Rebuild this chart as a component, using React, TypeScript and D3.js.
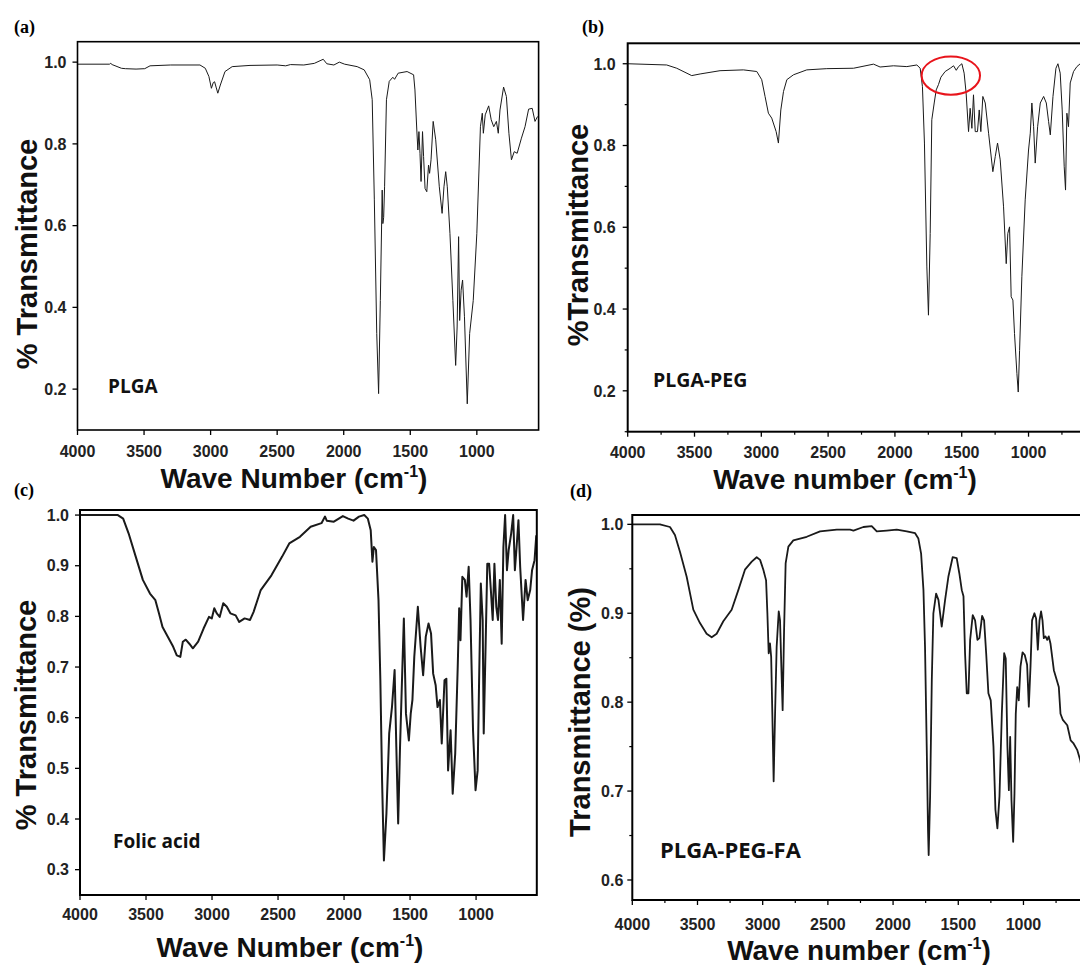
import React from 'react';
import * as d3 from 'd3';

type Pt = [number, number];

// ---------- DATA (wavenumber cm^-1, transmittance) ----------
const plgaSpectrum: Pt[] = [
  [4000, 0.995], [3760, 0.995], [3750, 0.997], [3740, 0.994], [3670, 0.985], [3640, 0.984], [3560, 0.983],
  [3495, 0.984], [3455, 0.991], [3300, 0.993], [3080, 0.993], [3040, 0.985], [3013, 0.965], [2994, 0.936],
  [2980, 0.95], [2970, 0.952], [2959, 0.939], [2946, 0.924], [2927, 0.944], [2892, 0.977], [2838, 0.989],
  [2704, 0.992], [2500, 0.993], [2436, 0.991], [2400, 0.994], [2300, 0.993], [2221, 0.997], [2154, 1.007],
  [2127, 0.996], [2074, 0.993], [2033, 1.0], [1993, 0.995], [1899, 0.989], [1846, 0.981], [1805, 0.957],
  [1786, 0.908], [1770, 0.663], [1752, 0.336], [1738, 0.189], [1725, 0.417], [1711, 0.687], [1706, 0.605],
  [1700, 0.62], [1693, 0.695], [1679, 0.908], [1658, 0.953], [1631, 0.963], [1618, 0.958], [1591, 0.973],
  [1524, 0.977], [1475, 0.969], [1465, 0.932], [1451, 0.834], [1443, 0.785], [1435, 0.83], [1427, 0.777],
  [1419, 0.708], [1408, 0.83], [1400, 0.769], [1389, 0.691], [1376, 0.683], [1363, 0.748], [1355, 0.728],
  [1344, 0.761], [1328, 0.855], [1309, 0.81], [1282, 0.695], [1261, 0.63], [1247, 0.695], [1234, 0.732],
  [1222, 0.695], [1202, 0.581], [1180, 0.417], [1159, 0.258], [1148, 0.352], [1137, 0.573], [1129, 0.368],
  [1118, 0.442], [1107, 0.467], [1093, 0.377], [1072, 0.164], [1054, 0.336], [1027, 0.417], [1000, 0.581],
  [973, 0.842], [959, 0.875], [951, 0.826], [937, 0.871], [911, 0.893], [892, 0.859], [873, 0.842],
  [853, 0.855], [839, 0.826], [826, 0.883], [799, 0.939], [778, 0.916], [759, 0.826], [740, 0.761],
  [719, 0.781], [697, 0.777], [665, 0.814], [638, 0.842], [611, 0.885], [584, 0.887], [563, 0.855], [544, 0.867],
];

const plgaPegSpectrum: Pt[] = [
  [4000, 1.0], [3708, 0.997], [3633, 0.989], [3521, 0.971], [3458, 0.975], [3309, 0.983], [3134, 0.985],
  [3034, 0.981], [2997, 0.961], [2972, 0.92], [2947, 0.879], [2922, 0.867], [2889, 0.834], [2872, 0.806],
  [2854, 0.887], [2834, 0.932], [2809, 0.961], [2759, 0.973], [2660, 0.985], [2510, 0.988], [2310, 0.989],
  [2160, 0.999], [2111, 0.992], [2011, 0.995], [1911, 0.993], [1836, 0.997], [1811, 0.989], [1794, 0.944],
  [1779, 0.806], [1761, 0.503], [1749, 0.385], [1736, 0.585], [1724, 0.863], [1706, 0.904], [1691, 0.936],
  [1674, 0.949], [1656, 0.967], [1624, 0.981], [1586, 0.989], [1561, 0.995], [1541, 0.984], [1524, 0.993],
  [1499, 1.0], [1482, 0.977], [1467, 0.928], [1449, 0.834], [1437, 0.891], [1424, 0.842], [1412, 0.924],
  [1399, 0.834], [1382, 0.834], [1369, 0.887], [1357, 0.834], [1342, 0.92], [1324, 0.904], [1299, 0.83],
  [1267, 0.736], [1249, 0.773], [1232, 0.806], [1212, 0.765], [1187, 0.65], [1167, 0.511], [1155, 0.585],
  [1142, 0.601], [1130, 0.43], [1117, 0.422], [1105, 0.34], [1087, 0.242], [1077, 0.197], [1067, 0.299],
  [1050, 0.479], [1025, 0.667], [1000, 0.789], [987, 0.83], [975, 0.904], [962, 0.846], [950, 0.757],
  [932, 0.846], [912, 0.904], [887, 0.92], [867, 0.904], [850, 0.859], [837, 0.826], [817, 0.92],
  [795, 0.989], [780, 1.0], [763, 0.977], [748, 0.887], [733, 0.748], [723, 0.691], [713, 0.879],
  [701, 0.846], [688, 0.953], [663, 0.981], [638, 0.993], [613, 1.0], [590, 1.003],
];

const folicAcidSpectrum: Pt[] = [
  [4000, 1.0], [3713, 1.0], [3673, 0.993], [3632, 0.964], [3578, 0.918], [3524, 0.872], [3470, 0.845],
  [3429, 0.832], [3402, 0.806], [3375, 0.779], [3335, 0.76], [3294, 0.74], [3267, 0.723], [3240, 0.72],
  [3221, 0.75], [3199, 0.754], [3172, 0.746], [3145, 0.737], [3105, 0.75], [3064, 0.776], [3023, 0.799],
  [3002, 0.796], [2983, 0.816], [2964, 0.806], [2942, 0.799], [2915, 0.826], [2888, 0.819], [2861, 0.806],
  [2821, 0.802], [2794, 0.789], [2753, 0.796], [2712, 0.793], [2685, 0.809], [2631, 0.852], [2550, 0.881],
  [2469, 0.918], [2415, 0.944], [2334, 0.957], [2253, 0.977], [2171, 0.984], [2144, 0.997], [2131, 0.989],
  [2077, 0.987], [2009, 0.998], [1969, 0.993], [1928, 0.989], [1887, 0.997], [1847, 1.0], [1820, 0.993],
  [1798, 0.97], [1785, 0.908], [1774, 0.937], [1758, 0.931], [1739, 0.832], [1725, 0.674], [1712, 0.477],
  [1698, 0.318], [1679, 0.411], [1658, 0.569], [1637, 0.621], [1617, 0.694], [1604, 0.542], [1590, 0.391],
  [1576, 0.542], [1558, 0.701], [1547, 0.796], [1531, 0.608], [1509, 0.555], [1495, 0.608], [1482, 0.635],
  [1468, 0.72], [1441, 0.819], [1420, 0.74], [1401, 0.684], [1381, 0.76], [1360, 0.786], [1341, 0.766],
  [1325, 0.687], [1306, 0.664], [1292, 0.621], [1274, 0.635], [1260, 0.549], [1239, 0.674], [1225, 0.677],
  [1212, 0.496], [1193, 0.575], [1177, 0.45], [1158, 0.529], [1139, 0.7], [1128, 0.816], [1118, 0.753],
  [1104, 0.878], [1085, 0.872], [1072, 0.839], [1056, 0.898], [1042, 0.793], [1023, 0.575], [1004, 0.457],
  [988, 0.496], [977, 0.674], [964, 0.865], [950, 0.793], [942, 0.569], [928, 0.74], [915, 0.904],
  [901, 0.904], [888, 0.852], [874, 0.793], [861, 0.904], [847, 0.819], [834, 0.793], [820, 0.872],
  [806, 0.746], [793, 0.937], [780, 1.0], [766, 0.891], [753, 0.931], [734, 0.964], [719, 1.0],
  [706, 0.891], [693, 0.937], [679, 0.99], [666, 0.898], [644, 0.793], [625, 0.872], [609, 0.832],
  [590, 0.852], [576, 0.891], [557, 0.911], [544, 0.96],
];

const plgaPegFaSpectrum: Pt[] = [
  [4000, 1.0], [3788, 1.0], [3711, 0.997], [3673, 0.988], [3634, 0.969], [3583, 0.941], [3532, 0.904],
  [3481, 0.889], [3430, 0.877], [3391, 0.873], [3353, 0.877], [3302, 0.891], [3238, 0.904], [3187, 0.926],
  [3136, 0.949], [3084, 0.958], [3046, 0.963], [3020, 0.96], [2995, 0.949], [2974, 0.937], [2964, 0.9],
  [2954, 0.855], [2944, 0.866], [2935, 0.851], [2926, 0.787], [2916, 0.711], [2905, 0.787], [2893, 0.862],
  [2877, 0.902], [2867, 0.892], [2857, 0.84], [2847, 0.791], [2836, 0.881], [2824, 0.956], [2803, 0.975],
  [2765, 0.982], [2662, 0.986], [2560, 0.992], [2432, 0.994], [2330, 0.994], [2304, 0.993], [2228, 0.997],
  [2164, 0.998], [2125, 0.992], [2049, 0.993], [1972, 0.994], [1895, 0.992], [1831, 0.99], [1806, 0.984],
  [1785, 0.967], [1767, 0.926], [1755, 0.862], [1742, 0.75], [1732, 0.656], [1727, 0.628], [1716, 0.694],
  [1703, 0.825], [1691, 0.9], [1670, 0.922], [1652, 0.915], [1627, 0.885], [1601, 0.915], [1576, 0.941],
  [1543, 0.963], [1512, 0.962], [1492, 0.945], [1473, 0.926], [1460, 0.919], [1448, 0.855], [1435, 0.81],
  [1422, 0.81], [1409, 0.87], [1389, 0.898], [1371, 0.892], [1353, 0.87], [1338, 0.872], [1317, 0.897],
  [1302, 0.892], [1286, 0.855], [1269, 0.81], [1251, 0.802], [1230, 0.75], [1215, 0.679], [1200, 0.658],
  [1184, 0.694], [1166, 0.787], [1148, 0.855], [1136, 0.849], [1123, 0.75], [1112, 0.701], [1102, 0.761],
  [1092, 0.69], [1079, 0.643], [1069, 0.697], [1059, 0.787], [1048, 0.817], [1036, 0.802], [1023, 0.84],
  [1007, 0.856], [990, 0.853], [972, 0.842], [959, 0.795], [946, 0.84], [934, 0.892], [916, 0.9],
  [903, 0.894], [890, 0.859], [877, 0.892], [865, 0.902], [854, 0.892], [844, 0.872], [831, 0.874],
  [818, 0.87], [806, 0.874], [793, 0.866], [767, 0.836], [729, 0.817], [716, 0.787], [698, 0.78],
  [664, 0.774], [638, 0.757], [618, 0.754], [587, 0.746], [565, 0.735], [545, 0.72],
];

const xTickValues = [4000, 3500, 3000, 2500, 2000, 1500, 1000];
const xMinorValues = [3750, 3250, 2750, 2250, 1750, 1250, 750];
const yTicksA = [0.2, 0.4, 0.6, 0.8, 1.0];
const yTicksB = [0.2, 0.4, 0.6, 0.8, 1.0];
const yMinorB = [0.1, 0.3, 0.5, 0.7, 0.9];
const yTicksC = [0.3, 0.4, 0.5, 0.6, 0.7, 0.8, 0.9, 1.0];
const yTicksD = [0.6, 0.7, 0.8, 0.9, 1.0];
const yMinorD = [0.65, 0.75, 0.85, 0.95];
const sampleNames = ['PLGA', 'PLGA-PEG', 'Folic acid', 'PLGA-PEG-FA'];
const panelLetters = ['(a)', '(b)', '(c)', '(d)'];
const yTitles = ['% Transmittance', '%Transmittance', '% Transmittance', 'Transmittance (%)'];
const xTitles = ['Wave Number', 'Wave number', 'Wave Number', 'Wave number'];
// red highlight region in (b): wavenumber span and transmittance span
const highlightWave = [1800, 1363];
const highlightT = [1.018, 0.924];

// ---------- LAYOUT ----------
const SANS = '"Liberation Sans", Arial, Helvetica, sans-serif';
const LABEL = '"Open Sans", "Noto Sans", sans-serif';
const SERIF = '"Liberation Serif", "Times New Roman", serif';

interface PanelSpec {
  data: Pt[];
  left: number; right: number; top: number; bottom: number;
  xDomain: [number, number]; yDomain: [number, number];
  yTicks: number[]; yMinor: number[]; xMinor: number[];
  lineWidth: number; boxWidth: number;
  letter: string; letterX: number; letterY: number;
  yTitle: string; yTitleX: number; yTitleY: number;
  xTitle: string; xTitleX: number; xTitleY: number;
  xLabelY: number; yLabelGap: number;
  name: string; nameX: number; nameY: number; nameSize: number;
  highlight?: boolean;
  id: string;
}

const panels: PanelSpec[] = [
  {
    id: 'a', data: plgaSpectrum, left: 77.5, right: 538.6, top: 41.7, bottom: 430,
    xDomain: [4000, 536], yDomain: [0.1, 1.05], yTicks: yTicksA, yMinor: [], xMinor: [],
    lineWidth: 1, boxWidth: 1.6,
    letter: panelLetters[0], letterX: 14, letterY: 33,
    yTitle: yTitles[0], yTitleX: 27, yTitleY: 254,
    xTitle: xTitles[0], xTitleX: 294, xTitleY: 488,
    xLabelY: 457, yLabelGap: 11,
    name: sampleNames[0], nameX: 108, nameY: 393, nameSize: 19,
  },
  {
    id: 'b', data: plgaPegSpectrum, left: 627.7, right: 1108.7, top: 43.3, bottom: 431.7,
    xDomain: [4000, 400], yDomain: [0.1, 1.05], yTicks: yTicksB, yMinor: yMinorB, xMinor: xMinorValues,
    lineWidth: 1, boxWidth: 2,
    letter: panelLetters[1], letterX: 582, letterY: 33,
    yTitle: yTitles[1], yTitleX: 578, yTitleY: 235,
    xTitle: xTitles[1], xTitleX: 845, xTitleY: 489,
    xLabelY: 458, yLabelGap: 12,
    name: sampleNames[1], nameX: 653, nameY: 387, nameSize: 19.5,
    highlight: true,
  },
  {
    id: 'c', data: folicAcidSpectrum, left: 80, right: 536.8, top: 510, bottom: 895,
    xDomain: [4000, 540], yDomain: [0.25, 1.01], yTicks: yTicksC, yMinor: [], xMinor: [],
    lineWidth: 2, boxWidth: 2,
    letter: panelLetters[2], letterX: 14, letterY: 496,
    yTitle: yTitles[2], yTitleX: 26, yTitleY: 715,
    xTitle: xTitles[2], xTitleX: 290, xTitleY: 957,
    xLabelY: 920, yLabelGap: 11,
    name: sampleNames[2], nameX: 113, nameY: 848, nameSize: 19,
  },
  {
    id: 'd', data: plgaPegFaSpectrum, left: 632.3, right: 1101.7, top: 515, bottom: 900,
    xDomain: [4000, 400], yDomain: [0.5775, 1.0105], yTicks: yTicksD, yMinor: yMinorD, xMinor: xMinorValues,
    lineWidth: 1.8, boxWidth: 2,
    letter: panelLetters[3], letterX: 570, letterY: 497,
    yTitle: yTitles[3], yTitleX: 580, yTitleY: 712,
    xTitle: xTitles[3], xTitleX: 859, xTitleY: 960,
    xLabelY: 930, yLabelGap: 9,
    name: sampleNames[3], nameX: 660, nameY: 858, nameSize: 22,
  },
];

const fmt = d3.format('.1f');

function Panel({ p }: { p: PanelSpec }) {
  const x = d3.scaleLinear().domain(p.xDomain).range([p.left, p.right]);
  const y = d3.scaleLinear().domain(p.yDomain).range([p.bottom, p.top]);
  const line = d3.line<Pt>().x(d => x(d[0])).y(d => y(d[1]));
  const clipId = `clip-${p.id}`;
  const major = 5;
  const minor = 3;

  let ellipse: React.ReactNode = null;
  if (p.highlight) {
    const x1 = x(highlightWave[0]), x2 = x(highlightWave[1]);
    const y1 = y(highlightT[0]), y2 = y(highlightT[1]);
    ellipse = (
      <ellipse cx={(x1 + x2) / 2} cy={(y1 + y2) / 2} rx={Math.abs(x2 - x1) / 2} ry={Math.abs(y2 - y1) / 2}
        fill="none" stroke="#e8141b" strokeWidth={2} />
    );
  }

  return (
    <g>
      <defs>
        <clipPath id={clipId}>
          <rect x={p.left} y={p.top} width={p.right - p.left} height={p.bottom - p.top} />
        </clipPath>
      </defs>
      <path d={line(p.data) || ''} fill="none" stroke="#1a1a1a" strokeWidth={p.lineWidth}
        strokeLinejoin="round" clipPath={`url(#${clipId})`} />
      {ellipse}
      <rect x={p.left} y={p.top} width={p.right - p.left} height={p.bottom - p.top}
        fill="none" stroke="#000" strokeWidth={p.boxWidth} />
      {/* y ticks */}
      {p.yTicks.map(v => (
        <g key={`yt${v}`}>
          <line x1={p.left - major} x2={p.left} y1={y(v)} y2={y(v)} stroke="#000" strokeWidth={1.3} />
          <text x={p.left - p.yLabelGap} y={y(v)} dy="0.36em" textAnchor="end" fontFamily={SANS}
            fontWeight="bold" fontSize={16} fill="#222">{fmt(v)}</text>
        </g>
      ))}
      {p.yMinor.map(v => (
        <line key={`ym${v}`} x1={p.left - minor} x2={p.left} y1={y(v)} y2={y(v)} stroke="#000" strokeWidth={1.2} />
      ))}
      {/* x ticks */}
      {xTickValues.map(v => (
        <g key={`xt${v}`}>
          <line x1={x(v)} x2={x(v)} y1={p.bottom} y2={p.bottom + major} stroke="#000" strokeWidth={1.3} />
          <text x={x(v)} y={p.xLabelY} textAnchor="middle" fontFamily={SANS} fontWeight="bold"
            fontSize={16} fill="#222">{v}</text>
        </g>
      ))}
      {p.xMinor.map(v => (
        <line key={`xm${v}`} x1={x(v)} x2={x(v)} y1={p.bottom} y2={p.bottom + minor} stroke="#000" strokeWidth={1.2} />
      ))}
      {/* titles */}
      <text transform={`translate(${p.yTitleX},${p.yTitleY}) rotate(-90)`} textAnchor="middle" dy="0.36em"
        fontFamily={SANS} fontWeight="bold" fontSize={29} fill="#111">{p.yTitle}</text>
      <text x={p.xTitleX} y={p.xTitleY} textAnchor="middle" fontFamily={SANS} fontWeight="bold"
        fontSize={28} fill="#111">
        {p.xTitle} (cm<tspan fontSize={16} dy={-11}>-1</tspan><tspan dy={11}>)</tspan>
      </text>
      <text x={p.letterX} y={p.letterY} fontFamily={SERIF} fontWeight="bold" fontSize={18} fill="#000">{p.letter}</text>
      <text x={p.nameX} y={p.nameY} fontFamily={LABEL} fontWeight="bold" fontSize={p.nameSize} fill="#111">{p.name}</text>
    </g>
  );
}

export default function App() {
  return (
    <svg width={1080} height={965} viewBox="0 0 1080 965"
      style={{ position: 'absolute', left: 0, top: 0, background: '#fff', display: 'block' }}>
      <rect x={0} y={0} width={1080} height={965} fill="#fff" />
      {panels.map(p => <Panel key={p.id} p={p} />)}
    </svg>
  );
}
